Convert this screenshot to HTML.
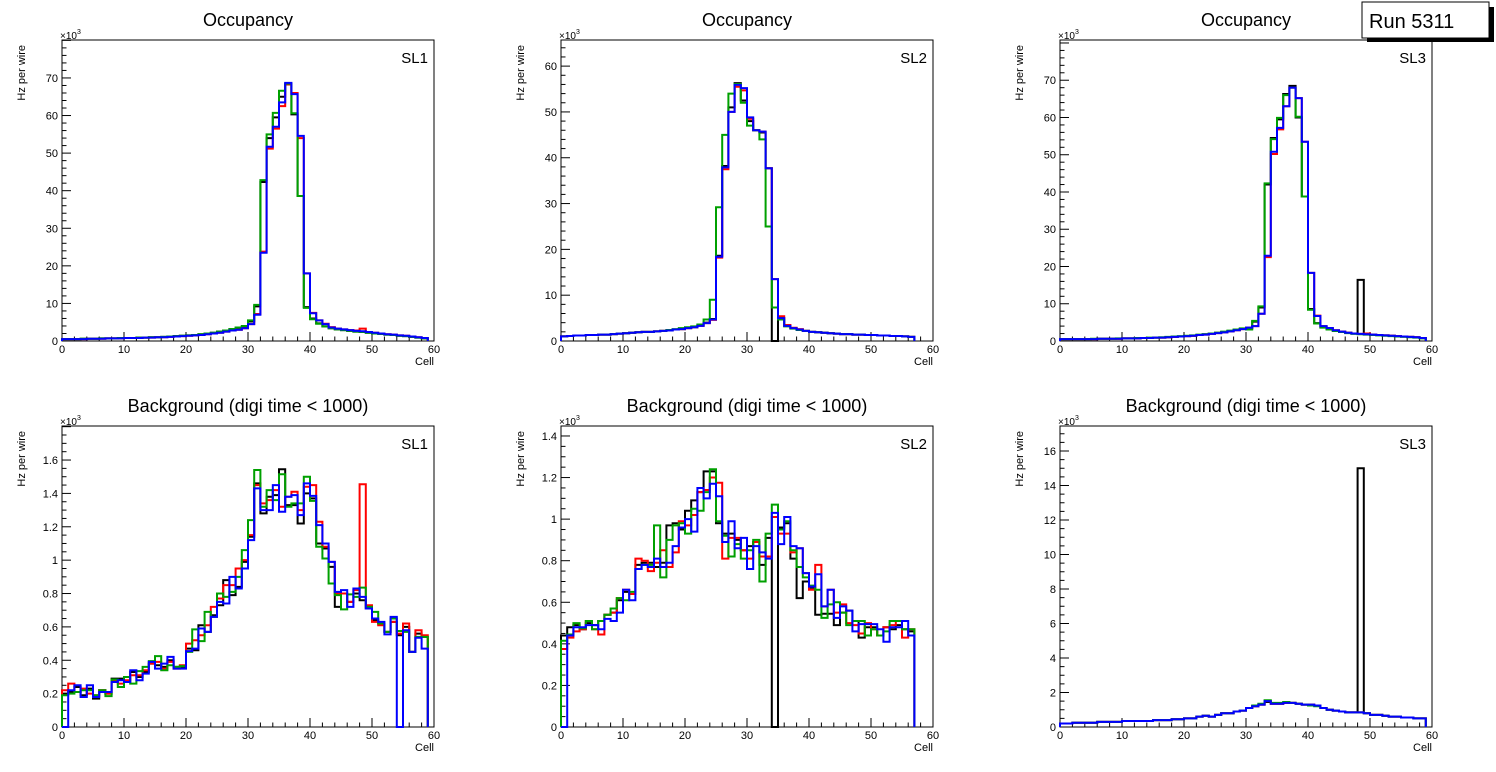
<!DOCTYPE html>
<html><head><meta charset="utf-8"><style>
body{margin:0;background:#fff;}
svg{display:block;font-family:"Liberation Sans",Arial,sans-serif;}
</style></head><body>
<svg id="c" width="1496" height="772" viewBox="0 0 1496 772">
<rect x="0" y="0" width="1496" height="772" fill="#fff"/>
<g>
<rect x="1367" y="7" width="127" height="35" fill="#000"/>
<rect x="1362" y="2" width="127" height="36" fill="#fff" stroke="#000" stroke-width="1"/>
<text x="1369" y="28" font-size="20">Run 5311</text>
</g>
</svg>
<script>
// ---------- data (x10^3 Hz per wire per cell) ----------
const tlBlack=[0.5,0.5,0.5,0.6,0.6,0.6,0.7,0.7,0.7,0.8,0.8,0.8,0.9,0.9,1.0,1.0,1.1,1.2,1.3,1.4,1.5,1.6,1.8,2.0,2.2,2.5,2.8,3.1,3.4,3.8,5.2,9.2,42.3,54.0,59.5,65.0,68.3,60.3,38.6,9.0,6.0,4.7,3.9,3.4,3.1,2.9,2.7,2.5,2.4,2.2,2.0,1.9,1.7,1.6,1.4,1.3,1.1,0.9,0.7];
const tlRed=[0.5,0.5,0.5,0.5,0.6,0.6,0.6,0.7,0.7,0.7,0.8,0.8,0.8,0.9,0.9,1.0,1.0,1.1,1.2,1.3,1.4,1.5,1.6,1.8,2.0,2.2,2.5,2.8,3.0,3.4,4.5,7.2,23.8,51.2,56.5,62.5,68.3,66.0,54.0,18.0,7.5,5.5,4.6,3.7,3.3,3.1,2.9,2.8,3.3,2.4,2.2,2.0,1.8,1.7,1.5,1.4,1.2,1.0,0.8];
const tlGreen=[0.5,0.5,0.5,0.6,0.6,0.6,0.7,0.7,0.7,0.8,0.8,0.8,0.9,0.9,1.0,1.0,1.1,1.2,1.3,1.4,1.5,1.6,1.8,2.0,2.2,2.5,2.8,3.2,3.6,4.0,5.5,9.6,42.8,55.0,60.7,66.6,68.5,60.6,38.6,8.8,5.8,4.6,3.9,3.4,3.1,2.9,2.7,2.5,2.4,2.2,2.0,1.9,1.7,1.6,1.4,1.3,1.1,0.9,0.7];
const tlBlue=[0.5,0.5,0.5,0.5,0.6,0.6,0.6,0.7,0.7,0.7,0.8,0.8,0.8,0.9,0.9,1.0,1.0,1.1,1.2,1.3,1.4,1.5,1.6,1.8,2.0,2.2,2.5,2.8,3.0,3.4,4.5,7.0,23.5,51.7,57.0,63.5,68.7,65.7,54.6,18.0,7.4,5.5,4.5,3.6,3.3,3.1,2.9,2.7,2.6,2.4,2.2,2.0,1.8,1.7,1.5,1.4,1.2,1.0,0.8];

const tmBlack=[1.0,1.1,1.2,1.2,1.3,1.3,1.4,1.4,1.5,1.6,1.7,1.8,1.9,2.0,2.0,2.1,2.2,2.3,2.5,2.6,2.8,3.0,3.4,4.0,4.8,18.6,38.2,51.0,56.3,52.5,48.0,46.0,45.5,37.7,0,5.0,3.3,2.8,2.5,2.2,2.0,1.9,1.8,1.7,1.6,1.5,1.5,1.4,1.4,1.3,1.3,1.2,1.2,1.1,1.1,1.0,0.9];
const tmRed=[1.0,1.1,1.2,1.2,1.3,1.3,1.4,1.4,1.5,1.6,1.7,1.8,1.9,2.0,2.0,2.1,2.2,2.3,2.5,2.6,2.8,3.0,3.3,3.9,4.6,18.2,37.5,50.0,55.5,54.7,48.5,46.0,45.7,37.7,13.5,5.4,3.5,2.9,2.6,2.2,2.0,1.9,1.8,1.7,1.6,1.5,1.5,1.4,1.4,1.3,1.3,1.2,1.2,1.1,1.1,1.0,0.9];
const tmGreen=[1.0,1.1,1.2,1.2,1.3,1.3,1.4,1.4,1.5,1.6,1.7,1.8,1.9,2.0,2.0,2.1,2.2,2.4,2.6,2.8,3.0,3.2,3.6,4.7,9.0,29.2,45.0,54.0,56.1,52.0,47.0,46.0,44.0,25.0,7.3,4.7,3.2,2.7,2.4,2.2,2.0,1.9,1.8,1.7,1.6,1.5,1.5,1.4,1.4,1.3,1.3,1.2,1.2,1.1,1.1,1.0,0.9];
const tmBlue=[1.0,1.1,1.2,1.2,1.3,1.3,1.4,1.4,1.5,1.6,1.7,1.8,1.9,2.0,2.0,2.1,2.2,2.3,2.5,2.6,2.8,3.0,3.3,3.9,4.7,18.4,37.9,50.0,55.9,55.2,48.8,46.0,45.7,37.7,13.5,5.0,3.3,2.8,2.5,2.2,2.0,1.9,1.8,1.7,1.6,1.5,1.5,1.4,1.4,1.3,1.3,1.2,1.2,1.1,1.1,1.0,0.9];

const trBlack=[0.5,0.5,0.5,0.5,0.5,0.5,0.6,0.6,0.6,0.6,0.7,0.7,0.7,0.8,0.8,0.9,0.9,1.0,1.1,1.2,1.3,1.4,1.6,1.8,2.0,2.2,2.4,2.7,3.0,3.3,3.4,5.2,9.0,42.0,54.5,59.5,66.3,68.5,60.0,38.8,8.6,4.8,3.7,3.2,2.8,2.5,2.2,2.0,16.4,1.8,1.7,1.6,1.5,1.4,1.3,1.2,1.1,1.0,0.8];
const trRed=[0.5,0.5,0.5,0.5,0.5,0.5,0.6,0.6,0.6,0.6,0.7,0.7,0.7,0.8,0.8,0.9,0.9,1.0,1.1,1.2,1.3,1.4,1.6,1.7,1.9,2.1,2.3,2.6,2.9,3.2,3.6,4.0,7.3,22.5,50.2,56.8,63.0,68.0,65.2,53.5,18.3,6.8,4.0,3.5,2.9,2.5,2.2,2.0,1.9,2.0,1.7,1.6,1.5,1.4,1.3,1.2,1.1,1.0,0.8];
const trGreen=[0.5,0.5,0.5,0.5,0.5,0.6,0.6,0.6,0.6,0.7,0.7,0.7,0.8,0.8,0.9,0.9,1.0,1.1,1.2,1.3,1.4,1.5,1.7,1.8,2.0,2.2,2.5,2.8,3.1,3.4,3.1,5.4,9.3,42.3,54.2,59.9,66.0,68.0,60.2,38.8,8.4,4.7,3.6,3.1,2.7,2.4,2.1,1.9,1.8,1.7,1.6,1.5,1.4,1.3,1.2,1.1,1.0,0.9,0.7];
const trBlue=[0.5,0.5,0.5,0.5,0.5,0.5,0.6,0.6,0.6,0.6,0.7,0.7,0.7,0.8,0.8,0.9,0.9,1.0,1.1,1.2,1.3,1.4,1.6,1.7,1.9,2.1,2.3,2.6,2.9,3.2,3.6,4.0,7.3,22.9,50.8,57.2,63.0,68.0,65.2,53.5,18.3,6.7,4.0,3.5,2.9,2.5,2.2,2.0,1.9,1.8,1.7,1.6,1.5,1.4,1.3,1.2,1.1,1.0,0.8];

const blBlack=[0.20,0.21,0.24,0.19,0.23,0.17,0.22,0.20,0.29,0.29,0.27,0.33,0.30,0.33,0.38,0.37,0.36,0.40,0.36,0.36,0.47,0.46,0.61,0.57,0.67,0.73,0.88,0.79,0.84,0.99,1.14,1.46,1.28,1.38,1.39,1.545,1.33,1.33,1.22,1.40,1.37,1.10,1.07,0.96,0.72,0.80,0.75,0.80,0.76,0.71,0.64,0.62,0.57,0.63,0.55,0.60,0.45,0.56,0.54];
const blRed=[0.22,0.26,0.21,0.23,0.20,0.19,0.22,0.20,0.28,0.26,0.28,0.31,0.31,0.34,0.38,0.39,0.35,0.39,0.35,0.37,0.50,0.52,0.55,0.61,0.72,0.77,0.85,0.85,0.95,1.00,1.15,1.45,1.34,1.36,1.42,1.32,1.38,1.41,1.30,1.44,1.45,1.23,1.08,0.99,0.80,0.80,0.75,0.82,1.455,0.73,0.63,0.61,0.57,0.63,0.56,0.62,0.45,0.58,0.55];
const blGreen=[0.19,0.20,0.21,0.22,0.22,0.19,0.22,0.185,0.285,0.24,0.30,0.26,0.335,0.36,0.395,0.425,0.34,0.37,0.36,0.365,0.45,0.585,0.515,0.69,0.66,0.80,0.78,0.81,0.90,1.06,1.24,1.54,1.32,1.42,1.36,1.515,1.32,1.34,1.34,1.50,1.355,1.08,1.01,0.86,0.79,0.705,0.795,0.78,0.835,0.72,0.69,0.62,0.57,0.65,0.575,0.57,0.45,0.54,0.54];
const blBlue=[0,0.22,0.25,0.18,0.25,0.18,0.21,0.21,0.27,0.28,0.27,0.34,0.28,0.32,0.39,0.35,0.38,0.42,0.35,0.35,0.455,0.47,0.59,0.57,0.66,0.75,0.74,0.90,0.83,0.95,1.12,1.43,1.30,1.30,1.45,1.29,1.38,1.39,1.27,1.46,1.385,1.21,1.10,0.99,0.81,0.82,0.72,0.83,0.78,0.71,0.65,0.63,0.555,0.66,0,0.58,0.45,0.535,0.47];

const bmBlack=[0.44,0.48,0.49,0.47,0.50,0.49,0.51,0.54,0.55,0.61,0.65,0.64,0.78,0.79,0.79,0.77,0.79,0.97,0.98,0.95,1.04,1.09,1.13,1.23,1.23,0.98,0.93,0.93,0.90,0.85,0.87,0.89,0.78,0.91,0,0.96,0.98,0.81,0.62,0.70,0.67,0.54,0.545,0.545,0.49,0.55,0.56,0.51,0.43,0.48,0.48,0.44,0.48,0.47,0.49,0.47,0.46];
const bmRed=[0.375,0.43,0.46,0.47,0.51,0.47,0.445,0.54,0.55,0.62,0.66,0.64,0.81,0.80,0.75,0.79,0.85,0.77,0.84,0.99,0.97,1.02,1.13,1.14,1.20,1.175,0.81,0.91,0.91,0.85,0.81,0.89,0.82,0.82,1.01,0.93,0.93,0.84,0.86,0.74,0.66,0.78,0.58,0.66,0.55,0.59,0.50,0.49,0.45,0.50,0.47,0.44,0.48,0.49,0.51,0.43,0.47];
const bmGreen=[0.415,0.445,0.50,0.475,0.51,0.47,0.51,0.54,0.57,0.62,0.61,0.65,0.76,0.78,0.78,0.97,0.72,0.90,0.97,0.98,0.93,1.05,1.04,1.13,1.24,0.99,0.92,0.82,0.88,0.81,0.85,0.90,0.70,0.93,1.07,0.95,0.99,0.85,0.77,0.72,0.68,0.66,0.525,0.59,0.60,0.55,0.49,0.51,0.51,0.44,0.47,0.44,0.46,0.51,0.51,0.47,0.47];
const bmBlue=[0,0.44,0.48,0.48,0.49,0.49,0.47,0.52,0.51,0.55,0.66,0.61,0.76,0.78,0.77,0.81,0.77,0.79,0.87,0.96,1.00,0.94,1.15,1.10,1.17,1.11,0.89,0.99,0.86,0.91,0.76,0.87,0.84,0.81,1.03,0.88,1.01,0.87,0.86,0.74,0.675,0.735,0.58,0.66,0.525,0.58,0.56,0.46,0.495,0.495,0.495,0.47,0.41,0.48,0.48,0.51,0.44];

const brBlack=[0.2,0.2,0.25,0.25,0.25,0.25,0.3,0.3,0.3,0.3,0.35,0.35,0.35,0.35,0.35,0.4,0.4,0.4,0.45,0.45,0.5,0.5,0.6,0.65,0.6,0.7,0.8,0.8,0.9,0.95,1.1,1.2,1.3,1.45,1.35,1.35,1.4,1.4,1.35,1.3,1.3,1.25,1.1,1.0,0.95,0.9,0.85,0.85,15.0,0.8,0.7,0.7,0.65,0.6,0.6,0.55,0.55,0.5,0.5];
const brRed=[0.2,0.2,0.25,0.25,0.25,0.25,0.3,0.3,0.3,0.3,0.35,0.35,0.35,0.35,0.35,0.4,0.4,0.4,0.45,0.45,0.5,0.5,0.6,0.65,0.6,0.7,0.8,0.8,0.9,0.95,1.1,1.2,1.3,1.5,1.35,1.35,1.4,1.4,1.35,1.3,1.3,1.25,1.1,1.0,0.95,0.9,0.85,0.85,0.85,0.8,0.7,0.7,0.65,0.6,0.6,0.55,0.55,0.5,0.5];
const brGreen=[0.2,0.2,0.25,0.25,0.25,0.25,0.3,0.3,0.3,0.3,0.35,0.35,0.35,0.35,0.35,0.4,0.4,0.4,0.45,0.45,0.5,0.5,0.6,0.65,0.6,0.7,0.8,0.8,0.9,0.95,1.1,1.25,1.35,1.55,1.4,1.4,1.45,1.4,1.35,1.3,1.25,1.2,1.1,1.0,0.95,0.9,0.85,0.85,0.85,0.8,0.7,0.7,0.65,0.6,0.6,0.55,0.55,0.5,0.5];
const brBlue=[0.2,0.2,0.25,0.25,0.25,0.25,0.3,0.3,0.3,0.3,0.35,0.35,0.35,0.35,0.35,0.4,0.4,0.4,0.45,0.45,0.5,0.5,0.6,0.65,0.6,0.7,0.8,0.8,0.9,0.95,1.1,1.2,1.3,1.5,1.35,1.35,1.4,1.4,1.35,1.3,1.3,1.25,1.1,1.0,0.95,0.9,0.85,0.85,0.85,0.8,0.7,0.7,0.65,0.6,0.6,0.55,0.55,0.5,0.5];

const xTicks=[0,10,20,30,40,50,60];
const tlYTicks=[0,10,20,30,40,50,60,70];
const tmYTicks=[0,10,20,30,40,50,60];
const trYTicks=[0,10,20,30,40,50,60,70];
const blYTicks=[0,0.2,0.4,0.6,0.8,1,1.2,1.4,1.6];
const bmYTicks=[0,0.2,0.4,0.6,0.8,1,1.2,1.4];
const brYTicks=[0,2,4,6,8,10,12,14,16];

// ---------- drawing ----------
const NS='http://www.w3.org/2000/svg';
const svg=document.getElementById('c');
const runLabel=svg.lastElementChild;
function mk(tag,attrs,parent){const e=document.createElementNS(NS,tag);for(const k in attrs)e.setAttribute(k,attrs[k]);parent.appendChild(e);return e;}

const W=372,H=301,XMAX=60;
const COLORS=['#000000','#ff0000','#00a000','#0000ff'];
const SNAMES=['black','red','green','blue'];

function panel(id,x0,y0,title,sl,ymax,yTicks,yMinor,series){
  const g=mk('g',{},svg);
  
  
  const yb=y0+H;
  const xs=v=>x0+v/XMAX*W;
  const ys=v=>yb-v/ymax*H;
  const t=mk('text',{x:x0+W/2,y:y0-14,'font-size':18,'text-anchor':'middle'},g);
  t.textContent=title;
  
  
  const fr=mk('rect',{x:x0,y:y0,width:W,height:H,fill:'none',stroke:'#000','stroke-width':1},g);
  
  
  const xa=mk('g',{},g);
  
  
  for(let v=0;v<=XMAX;v+=2){
    const major=v%10===0;
    mk('line',{x1:xs(v),x2:xs(v),y1:yb,y2:yb-(major?9:4.5),stroke:'#000','stroke-width':1},xa);
  }
  xTicks.forEach(v=>{
    const tl=mk('text',{x:xs(v),y:yb+12,'font-size':11,'text-anchor':'middle'},xa);
    tl.textContent=String(v);
    
    
  });
  const xt=mk('text',{x:x0+W,y:yb+24,'font-size':11,'text-anchor':'end'},xa);
  xt.textContent='Cell';
  
  
  const ya=mk('g',{},g);
  
  
  for(let v=0;v<=ymax+1e-9;v+=yMinor){
    const r=v/(yTicks[1]-yTicks[0]);
    const major=Math.abs(r-Math.round(r))<1e-6;
    mk('line',{x1:x0,x2:x0+(major?9:4.5),y1:ys(v),y2:ys(v),stroke:'#000','stroke-width':1},ya);
  }
  yTicks.forEach(v=>{
    const tl=mk('text',{x:x0-4,y:ys(v)+4,'font-size':11,'text-anchor':'end'},ya);
    tl.textContent=String(Math.round(v*10)/10);
    
    
  });
  const ex=mk('text',{x:x0-2,y:y0-1,'font-size':10},ya);
  ex.textContent='\u00d710';
  const sup=mk('tspan',{dy:-5,'font-size':7},ex);
  sup.textContent='3';
  
  
  const ytt=mk('text',{x:0,y:0,'font-size':11,'text-anchor':'end',transform:`translate(${x0-37},${y0+5}) rotate(-90)`},ya);
  ytt.textContent='Hz per wire';
  
  
  const sl_=mk('text',{x:x0+W-6,y:y0+23,'font-size':15,'text-anchor':'end'},g);
  sl_.textContent=sl;
  
  
  series.forEach((arr,si)=>{
    let d=`M${xs(0)},${ys(0)}`;
    arr.forEach((v,i)=>{d+=` L${xs(i)},${ys(v)} L${xs(i+1)},${ys(v)}`;});
    d+=` L${xs(arr.length)},${ys(0)}`;
    const p=mk('path',{d:d,fill:'none',stroke:COLORS[si],'stroke-width':2,'stroke-linejoin':'miter'},g);
    
    
  });
}

panel('occupancy-sl1',62,40,'Occupancy','SL1',80.1,tlYTicks,2,[tlBlack,tlRed,tlGreen,tlBlue]);
panel('occupancy-sl2',561,40,'Occupancy','SL2',65.7,tmYTicks,2,[tmBlack,tmRed,tmGreen,tmBlue]);
panel('occupancy-sl3',1060,40,'Occupancy','SL3',80.8,trYTicks,2,[trBlack,trRed,trGreen,trBlue]);
panel('background-sl1',62,426,'Background (digi time < 1000)','SL1',1.804,blYTicks,0.05,[blBlack,blRed,blGreen,blBlue]);
panel('background-sl2',561,426,'Background (digi time < 1000)','SL2',1.448,bmYTicks,0.05,[bmBlack,bmRed,bmGreen,bmBlue]);
panel('background-sl3',1060,426,'Background (digi time < 1000)','SL3',17.45,brYTicks,0.5,[brBlack,brRed,brGreen,brBlue]);
svg.appendChild(runLabel);
</script>
</body></html>
